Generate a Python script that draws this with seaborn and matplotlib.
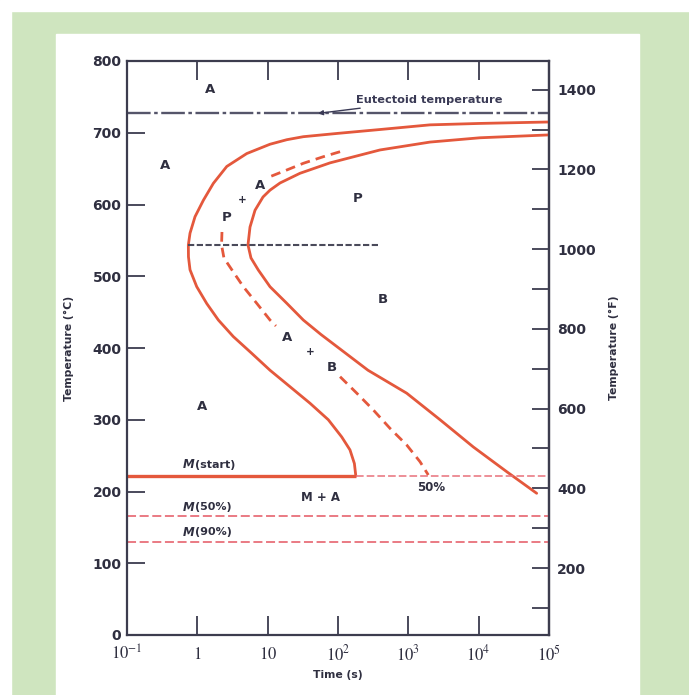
import matplotlib
matplotlib.use("Agg")
import matplotlib.pyplot as plt
from matplotlib.patches import Rectangle
from matplotlib.ticker import FixedLocator, NullLocator, FixedFormatter
import pandas as pd
import seaborn as sns

# ---- data: isothermal transformation diagram of a eutectoid steel ----
# transformation start curve (time in s, temperature in degC)
start_time = [1e5, 10450, 2032, 395, 95.9, 32.1, 18.7, 10.8, 5.04, 2.62, 1.69,
              1.22, 0.927, 0.787, 0.745, 0.748, 0.787, 0.98, 1.36, 1.99, 3.24,
              5.93, 10.8, 20.8, 40, 72.8, 113, 148, 171, 179]
start_temp = [715, 713, 711, 704.5, 699, 694.5, 690.3, 684, 671, 653, 629.5,
              606, 583, 560, 543.6, 527, 509, 485.5, 462, 439, 416,
              392.6, 369, 346, 323, 300, 276, 258, 239, 222]

# transformation finish curve
finish_time = [1e5, 10450, 2032, 395, 76.9, 28.8, 15.0, 10.8, 8.59, 6.61, 5.61,
               5.25, 5.79, 7.36, 10.8, 18.7, 32.1, 57.3, 107, 267, 948, 2825,
               8410, 25060, 66800]
finish_temp = [697, 693, 687, 676, 658, 643.5, 630, 620, 610.5, 592, 568.6,
               543.6, 525.5, 508.7, 485.4, 462.3, 439, 418.8, 398.6, 369, 337, 300,
               262, 227.6, 197.5]

# 50% transformation curve, broken where the phase labels sit on it
half_upper_time = [107, 61.8, 32.1, 18.7, 10.8]
half_upper_temp = [673.6, 666.6, 657.4, 648.1, 638.8]
half_mid_time = [2.24, 2.21, 2.39, 3.11, 4.51, 6.99, 10.8, 13.1]
half_mid_temp = [561.7, 543.6, 525.4, 508.7, 485.4, 462.3, 439, 430.7]
half_low_time = [107, 185, 318, 549, 948, 1466, 1923]
half_low_temp = [360, 337, 313.6, 288, 264.8, 241.5, 223]

# characteristic temperatures (degC)
eutectoid_T = 727
pearlite_bainite_T = 543
m_start_T = 222
m_50_T = 166
m_90_T = 129
m_start_end_time = 179
bound_line_span = (0.745, 400)

x_ticks = [1e-1, 1, 10, 1e2, 1e3, 1e4, 1e5]
x_tick_labels = [r"$10^{-1}$", r"$1$", r"$10$", r"$10^{2}$", r"$10^{3}$",
                 r"$10^{4}$", r"$10^{5}$"]
c_ticks = list(range(0, 801, 100))
f_major = list(range(200, 1401, 200))
f_minor = list(range(100, 1400, 200))

# ---- styling ----
sns.set_style("ticks")
plt.rcParams["font.family"] = ["DejaVu Sans"]
plt.rcParams["mathtext.fontset"] = "stix"

RED = "#e4583c"
PINK = "#e8707a"
INK = "#2f2f40"
SPINE = "#3c3c4e"
GREEN = "#cfe5bf"

W, H = 689, 695
fig = plt.figure(figsize=(W / 100, H / 100), dpi=100, facecolor=GREEN)
fig.patches.append(Rectangle((0, 1 - 11 / H), 1, 11 / H, transform=fig.transFigure,
                             color="white", zorder=-5))
fig.patches.append(Rectangle((0, 0), 11 / W, 1, transform=fig.transFigure,
                             color="white", zorder=-5))
fig.patches.append(Rectangle((56 / W, 0), (639 - 56) / W, (H - 34) / H,
                             transform=fig.transFigure, color="white", zorder=-4))

ax = fig.add_axes([127 / W, 1 - 635 / H, (549 - 127) / W, (635 - 61) / H])
ax.set_facecolor("white")
ax.set_xscale("log")


def curve(t, T, **kw):
    df = pd.DataFrame({"time": t, "temp": T})
    sns.lineplot(data=df, x="time", y="temp", sort=False, estimator=None,
                 ax=ax, legend=False, solid_joinstyle="round",
                 dash_joinstyle="round", **kw)


curve(start_time, start_temp, color=RED, lw=2.0)
curve(finish_time, finish_temp, color=RED, lw=2.0)
for t, T in [(half_upper_time, half_upper_temp), (half_mid_time, half_mid_temp),
             (half_low_time, half_low_temp)]:
    curve(t, T, color=RED, lw=2.0, linestyle=(0, (3.5, 2.2)))

# horizontal reference lines
ax.axhline(eutectoid_T, color="#55556a", lw=1.7, linestyle=(0, (10, 1.5, 1.5, 1.5)))
ax.hlines(pearlite_bainite_T, *bound_line_span, color="#4a4a5a", lw=1.5,
          linestyle=(0, (3, 1.2)))
ax.hlines(m_start_T, 0.1, m_start_end_time, color=RED, lw=2.4)
ax.hlines(m_start_T, m_start_end_time, 1e5, color=PINK, lw=1.1, linestyle=(0, (5, 2)))
ax.hlines(m_50_T, 0.1, 1e5, color=PINK, lw=1.3, linestyle=(0, (5, 2)))
ax.hlines(m_90_T, 0.1, 1e5, color=PINK, lw=1.3, linestyle=(0, (5, 2)))

# axes limits and ticks
ax.set_xlim(0.1, 1e5)
ax.set_ylim(0, 800)
ax.xaxis.set_major_locator(FixedLocator(x_ticks))
ax.xaxis.set_major_formatter(FixedFormatter(x_tick_labels))
ax.xaxis.set_minor_locator(NullLocator())
ax.yaxis.set_major_locator(FixedLocator(c_ticks))
ax.tick_params(axis="x", direction="in", length=14, width=1.3, color=SPINE,
               top=True, pad=7, labelsize=12, labelcolor=INK)
ax.tick_params(axis="y", direction="in", length=13, width=1.3, color=SPINE,
               right=False, pad=4, labelsize=10, labelcolor=INK)
for lab in ax.get_yticklabels():
    lab.set_fontweight("bold")
for s in ax.spines.values():
    s.set_color(SPINE)
    s.set_linewidth(1.6)
    s.set_visible(True)

sec = ax.secondary_yaxis("right", functions=(lambda c: c * 1.8 + 32,
                                             lambda f: (f - 32) / 1.8))
sec.yaxis.set_major_locator(FixedLocator(f_major))
sec.yaxis.set_minor_locator(FixedLocator(f_minor))
sec.tick_params(which="both", direction="in", length=12, width=1.3, color=SPINE,
                pad=6, labelsize=10, labelcolor=INK)
sec.spines["right"].set_color(SPINE)
sec.spines["right"].set_linewidth(1.6)
for lab in sec.get_yticklabels():
    lab.set_fontweight("bold")

lab_kw = dict(fontsize=7.8, fontweight="bold", color=INK)
ax.set_xlabel("Time (s)", labelpad=4, **lab_kw)
ax.set_ylabel("Temperature (°C)", labelpad=13, **lab_kw)
sec.set_ylabel("Temperature (°F)", labelpad=9, rotation=90, **lab_kw)

# phase-field labels
txt = dict(fontsize=9.5, fontweight="bold", color=INK, ha="center", va="center")
plus = dict(fontsize=7.5, fontweight="bold", color=INK, ha="center", va="center")
ax.text(1.51, 760, "A", **txt)
ax.text(0.347, 654, "A", **txt)
ax.text(2.64, 582, "P", **txt)
ax.text(4.3, 606, "+", **plus)
ax.text(7.8, 627, "A", **txt)
ax.text(193, 609, "P", **txt)
ax.text(436, 467, "B", **txt)
ax.text(18.8, 415, "A", **txt)
ax.text(40, 394, "+", **plus)
ax.text(82, 373, "B", **txt)
ax.text(1.16, 318, "A", **txt)
ax.text(55.5, 191, "M + A", **dict(txt, fontsize=8.5))
ax.text(2090, 205, "50%", **dict(txt, fontsize=8.5))

# martensite lines
for T, name in [(237, "(start)"), (178, "(50%)"), (143, "(90%)")]:
    ax.text(0.625, T, "M", fontsize=8.5, fontweight="bold", fontstyle="italic",
            color=INK, ha="left", va="center")
    ax.annotate(name, xy=(0.625, T), xytext=(8.5, 0), textcoords="offset points",
                fontsize=8, fontweight="bold", color=INK, ha="left", va="center")

ax.annotate("Eutectoid temperature", xy=(52, eutectoid_T), xytext=(178, 746),
            fontsize=8.2, fontweight="bold", color="#3a3a55", ha="left", va="center",
            arrowprops=dict(arrowstyle="-|>", color="#3a3a55", lw=1.0,
                            mutation_scale=7, shrinkA=1, shrinkB=0))

fig.savefig("out.png", dpi=100, facecolor=fig.get_facecolor())
